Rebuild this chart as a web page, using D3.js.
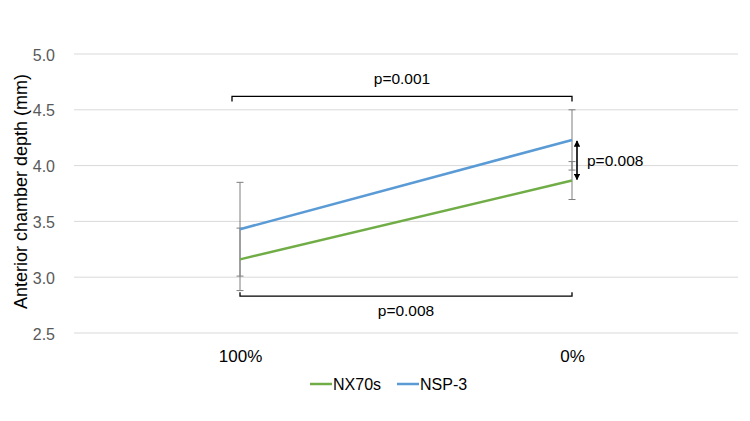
<!DOCTYPE html>
<html>
<head>
<meta charset="utf-8">
<script src="https://cdn.jsdelivr.net/npm/d3@7"></script>
<style>
  body { margin: 0; background: #fff; }
  svg text { font-family: "Liberation Sans", Arial, sans-serif; }
</style>
</head>
<body>
<div id="chart"></div>
<script>
// data
const categories = ["100%", "0%"];
const nx70s = [3.16, 3.866];
const nx70sErr = [0.28, 0.17];
const nsp3 = [3.43, 4.23];
const nsp3Err = [0.42, 0.27];
const yTicks = [2.5, 3.0, 3.5, 4.0, 4.5, 5.0];
const seriesNames = ["NX70s", "NSP-3"];
const colors = ["#70ad47", "#5b9bd5"];

const width = 750;
const height = 421;
const margin = {top: 54, right: 12, bottom: 88, left: 74};
const innerWidth = width - margin.left - margin.right;
const innerHeight = height - margin.top - margin.bottom;

const svg = d3.select("#chart")
  .append("svg")
  .attr("width", width)
  .attr("height", height);

const chart = svg.append("g")
  .attr("transform", `translate(${margin.left}, ${margin.top})`);

const x = d3.scalePoint()
  .domain(categories)
  .range([0, innerWidth])
  .padding(0.5);

const y = d3.scaleLinear()
  .domain([2.5, 5.0])
  .range([innerHeight, 0]);

// gridlines
chart.selectAll(".grid")
  .data(yTicks)
  .enter()
  .append("line")
  .attr("x1", 0)
  .attr("x2", innerWidth)
  .attr("y1", d => y(d))
  .attr("y2", d => y(d))
  .attr("stroke", "#d9d9d9")
  .attr("stroke-width", 1);

// y axis
const yAxis = chart.append("g")
  .call(d3.axisLeft(y).tickValues(yTicks).tickFormat(d3.format(".1f")).tickSize(0).tickPadding(19))
  .attr("font-family", null)
  .attr("font-size", null)
  .attr("fill", null);
yAxis.select(".domain").remove();
yAxis.selectAll(".tick line").remove();
yAxis.selectAll("text")
  .attr("dy", null)
  .attr("y", 6)
  .attr("font-size", 16)
  .attr("fill", "#595959");

svg.append("text")
  .attr("transform", "rotate(-90)")
  .attr("x", -(margin.top + innerHeight / 2) + 2)
  .attr("y", 27)
  .attr("text-anchor", "middle")
  .attr("font-size", 18)
  .attr("fill", "#000")
  .text("Anterior chamber depth (mm)");

// x axis labels
const xAxis = chart.append("g")
  .attr("transform", `translate(0, ${innerHeight})`)
  .call(d3.axisBottom(x).tickSize(0).tickPadding(12))
  .attr("font-family", null)
  .attr("font-size", null)
  .attr("fill", null);
xAxis.select(".domain").remove();
xAxis.selectAll(".tick line").remove();
xAxis.selectAll("text")
  .attr("dy", null)
  .attr("y", 29)
  .attr("font-size", 17)
  .attr("fill", "#000");

const series = [
  {name: seriesNames[0], values: nx70s, err: nx70sErr, color: colors[0]},
  {name: seriesNames[1], values: nsp3, err: nsp3Err, color: colors[1]}
];

// error bars
series.forEach(s => {
  const g = chart.append("g");
  s.values.forEach((v, i) => {
    const cx = x(categories[i]);
    const top = y(v + s.err[i]);
    const bot = y(v - s.err[i]);
    g.append("line").attr("x1", cx).attr("x2", cx).attr("y1", top).attr("y2", bot)
      .attr("stroke", "#7f7f7f").attr("stroke-width", 1);
    [top, bot].forEach(yy => {
      g.append("line").attr("x1", cx - 3.5).attr("x2", cx + 3.5).attr("y1", yy).attr("y2", yy)
        .attr("stroke", "#7f7f7f").attr("stroke-width", 1);
    });
  });
});

// lines
const line = d3.line()
  .x((d, i) => x(categories[i]))
  .y(d => y(d));

series.forEach(s => {
  chart.append("path")
    .datum(s.values)
    .attr("d", line)
    .attr("fill", "none")
    .attr("stroke", s.color)
    .attr("stroke-width", 2.5);
});

// significance annotations
const x0 = x(categories[0]);
const x1 = x(categories[1]);
const topY = y(4.62);
chart.append("path")
  .attr("d", `M${x0 - 8},${topY + 5}V${topY}H${x1}V${topY + 5}`)
  .attr("fill", "none").attr("stroke", "#000").attr("stroke-width", 1.3);
chart.append("text")
  .attr("x", (x0 - 8 + x1) / 2)
  .attr("y", topY - 12)
  .attr("text-anchor", "middle")
  .attr("font-size", 15.5)
  .text("p=0.001");

const botY = y(2.83);
chart.append("path")
  .attr("d", `M${x0},${botY - 4}V${botY}H${x1}V${botY - 4}`)
  .attr("fill", "none").attr("stroke", "#000").attr("stroke-width", 1.3);
chart.append("text")
  .attr("x", (x0 + x1) / 2)
  .attr("y", botY + 20)
  .attr("text-anchor", "middle")
  .attr("font-size", 15.5)
  .text("p=0.008");

// vertical double arrow
svg.append("defs").append("marker")
  .attr("id", "arrow")
  .attr("viewBox", "0 0 10 10")
  .attr("refX", 9).attr("refY", 5)
  .attr("markerWidth", 4).attr("markerHeight", 4)
  .attr("orient", "auto-start-reverse")
  .append("path")
  .attr("d", "M0,0L10,5L0,10z")
  .attr("fill", "#000");

const ax = x1 + 5;
chart.append("line")
  .attr("x1", ax).attr("x2", ax)
  .attr("y1", y(nsp3[1]) + 1).attr("y2", y(nx70s[1]) - 1)
  .attr("stroke", "#000").attr("stroke-width", 1.6)
  .attr("marker-start", "url(#arrow)")
  .attr("marker-end", "url(#arrow)");
chart.append("text")
  .attr("x", ax + 10)
  .attr("y", (y(nsp3[1]) + y(nx70s[1])) / 2 + 6)
  .attr("font-size", 15.5)
  .text("p=0.008");

// legend
const legend = svg.append("g").attr("transform", "translate(310, 384)");
let lx = 0;
series.forEach(s => {
  legend.append("line")
    .attr("x1", lx).attr("x2", lx + 22)
    .attr("y1", 0).attr("y2", 0)
    .attr("stroke", s.color).attr("stroke-width", 2.5);
  legend.append("text")
    .attr("x", lx + 23)
    .attr("y", 6)
    .attr("font-size", 16)
    .text(s.name);
  lx += 87;
});
</script>
</body>
</html>
